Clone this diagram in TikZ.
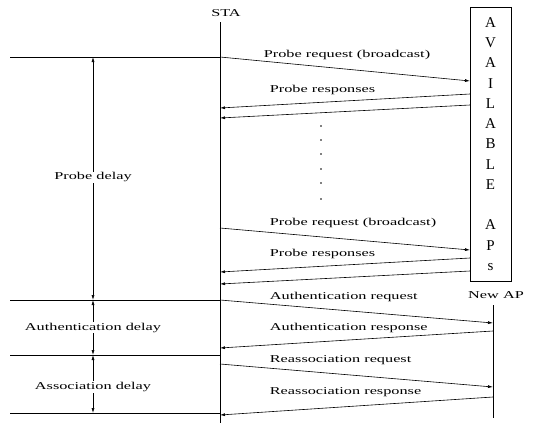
\documentclass[tikz,border=0pt]{standalone}
\usepackage{fontspec}
\setmainfont{Liberation Serif}
\usetikzlibrary{arrows.meta}
\tikzset{
  msg/.style={-{Latex[length=5pt,width=3pt]}, line width=0.6pt},
  span/.style={{Latex[length=5pt,width=3pt]}-{Latex[length=5pt,width=3pt]}, line width=0.6pt},
  guide/.style={line width=0.6pt},
  lbl/.style={font=\fontsize{10.5}{12}\selectfont, xscale=1.55, inner sep=1pt},
}
\begin{document}
\begin{tikzpicture}[x=1pt, y=-1pt]
  \useasboundingbox (0,0) rectangle (535,423);
  % stations
  \node[lbl] (sta) at (226,13) {STA};
  \node[lbl] (newap) at (496,295) {New AP};
  \node[draw, line width=0.6pt, minimum width=41pt, minimum height=274pt, inner sep=0pt,
        align=center, font=\fontsize{15}{20.25}\selectfont] (aps) at (490.5,144)
        {A\\V\\A\\I\\L\\A\\B\\L\\E\\[20.25pt]A\\P\\s};
  \coordinate (statop) at (220,22);
  \coordinate (stabot) at (220,423);
  \coordinate (aptop) at (493,305);
  \coordinate (apbot) at (493,418);
  \draw[guide] (statop) -- (stabot);
  \draw[guide] (aptop) -- (apbot);
  % message ends
  \coordinate (s1) at (220,57);   \coordinate (b1) at (470,81);
  \coordinate (s2) at (220,108);  \coordinate (b2) at (470,94);
  \coordinate (s3) at (220,118);  \coordinate (b3) at (470,105);
  \coordinate (s4) at (220,228);  \coordinate (b4) at (470,250);
  \coordinate (s5) at (220,272);  \coordinate (b5) at (470,258);
  \coordinate (s6) at (220,284);  \coordinate (b6) at (470,271);
  \coordinate (s7) at (220,300);  \coordinate (n7) at (493,323);
  \coordinate (s8) at (220,348);  \coordinate (n8) at (493,331);
  \coordinate (s9) at (220,355);
  \coordinate (s10) at (220,364); \coordinate (n10) at (493,387);
  \coordinate (s11) at (220,415); \coordinate (n11) at (493,397);
  \coordinate (s12) at (220,413);
  % probing
  \draw[msg] (s1) -- (b1);
  \draw[msg] (b2) -- (s2);
  \draw[msg] (b3) -- (s3);
  \node[lbl, anchor=west] (req1) at (262,55) {Probe request (broadcast)};
  \node[lbl, anchor=west] (resp1) at (268,90) {Probe responses};
  \foreach \y in {126,140,154,169,183,199}
    \fill (321,\y) circle (0.8pt);
  \draw[msg] (s4) -- (b4);
  \draw[msg] (b5) -- (s5);
  \draw[msg] (b6) -- (s6);
  \node[lbl, anchor=west] (req2) at (268,223) {Probe request (broadcast)};
  \node[lbl, anchor=west] (resp2) at (268,254) {Probe responses};
  % authentication and reassociation
  \draw[msg] (s7) -- (n7);
  \draw[msg] (n8) -- (s8);
  \draw[msg] (s10) -- (n10);
  \draw[msg] (n11) -- (s11);
  \node[lbl, anchor=west] (authq) at (268,297) {Authentication request};
  \node[lbl, anchor=west] (auths) at (268,328) {Authentication response};
  \node[lbl, anchor=west] (reaq) at (268,360) {Reassociation request};
  \node[lbl, anchor=west] (reas) at (268,392) {Reassociation response};
  % delays
  \coordinate (g1) at (10,57);
  \coordinate (g2) at (10,300);
  \coordinate (g3) at (10,355);
  \coordinate (g4) at (10,413);
  \draw[guide] (g1) -- (s1);
  \draw[guide] (g2) -- (s7);
  \draw[guide] (g3) -- (s9);
  \draw[guide] (g4) -- (s12);
  \coordinate (d1) at (93,57);
  \coordinate (d2) at (93,300);
  \coordinate (d3) at (93,355);
  \coordinate (d4) at (93,413);
  \draw[span] (d1) -- node[lbl, fill=white, pos=0.495] (pdelay) {Probe delay} (d2);
  \draw[span] (d2) -- node[lbl, fill=white] (adelay) {Authentication delay} (d3);
  \draw[span] (d3) -- node[lbl, fill=white, pos=0.55] (sdelay) {Association delay} (d4);
\end{tikzpicture}
\end{document}
